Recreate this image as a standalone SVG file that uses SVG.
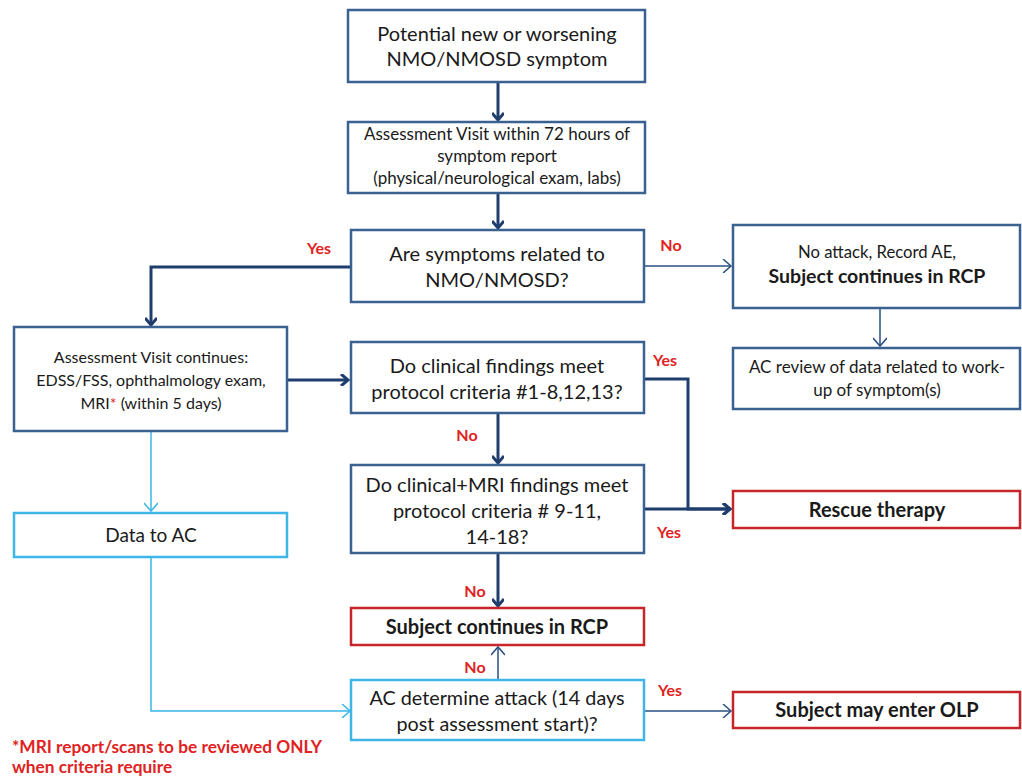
<svg xmlns="http://www.w3.org/2000/svg" width="1022" height="776" viewBox="0 0 1022 776">
<style>
text{font-family:Lato,"Open Sans","Liberation Sans",sans-serif;fill:#1a1a1a;text-anchor:middle}
.b{fill:#fff;stroke:#3a6190;stroke-width:2.5}
.r{fill:#fff;stroke:#c8252b;stroke-width:2.5}
.c{fill:#fff;stroke:#3db5e6;stroke-width:2.5}
.thick{fill:none;stroke:#1f3d6d;stroke-width:3;marker-end:url(#ah)}
.thin{fill:none;stroke:#2a4f80;stroke-width:1.5;marker-end:url(#aht)}
.lb{fill:none;stroke:#3db5e6;stroke-width:1.5;marker-end:url(#ahc)}
.lbl{fill:#e02222;font-weight:bold;font-size:16px}
.bold{font-weight:bold}
</style>
<defs>
<marker id="ah" markerWidth="12" markerHeight="12" refX="9" refY="6" orient="auto" markerUnits="userSpaceOnUse"><path d="M2,0 L9,6 L2,12" fill="none" stroke="#1f3d6d" stroke-width="3"/></marker>
<marker id="aht" markerWidth="12" markerHeight="14" refX="10" refY="7" orient="auto" markerUnits="userSpaceOnUse"><path d="M2,0 L10,7 L2,14" fill="none" stroke="#2a4f80" stroke-width="1.5"/></marker>
<marker id="ahc" markerWidth="12" markerHeight="14" refX="10" refY="7" orient="auto" markerUnits="userSpaceOnUse"><path d="M2,0 L10,7 L2,14" fill="none" stroke="#3db5e6" stroke-width="1.5"/></marker>
</defs>
<g id="connectors">
<path class="thick" d="M498,82 V120"/>
<path class="thick" d="M498,193 V228"/>
<path class="thin" d="M644,266 H731"/>
<path class="thick" d="M350,267 H151 V325"/>
<path class="thin" d="M880,308 V346"/>
<path class="thick" d="M287,380 H348"/>
<path class="thick" d="M644,379 H688 V509 H730"/>
<path class="thick" d="M498,413 V463"/>
<path class="thick" d="M644,509 H730"/>
<path class="thick" d="M498,553 V606"/>
<path class="thin" d="M498,680 V647"/>
<path class="thin" d="M644,711 H731"/>
<path class="lb" d="M151,431 V511"/>
<path class="lb" d="M151,557 V711 H350"/>
<text class="lbl" x="319" y="254">Yes</text>
<text class="lbl" x="671" y="251">No</text>
<text class="lbl" x="665" y="366">Yes</text>
<text class="lbl" x="467" y="441">No</text>
<text class="lbl" x="669" y="538">Yes</text>
<text class="lbl" x="475" y="597">No</text>
<text class="lbl" x="475" y="673">No</text>
<text class="lbl" x="670" y="696">Yes</text>
</g>
<g id="n1"><rect class="b" x="348" y="10" width="297" height="72"/>
<text x="497" y="41" font-size="20">Potential new or worsening</text>
<text x="497" y="66" font-size="20">NMO/NMOSD symptom</text></g>
<g id="n2"><rect class="b" x="348" y="122" width="297" height="71"/>
<text x="497" y="140" font-size="17">Assessment Visit within 72 hours of</text>
<text x="497" y="162" font-size="17">symptom report</text>
<text x="497" y="184" font-size="17">(physical/neurological exam, labs)</text></g>
<g id="n3"><rect class="b" x="351" y="230" width="293" height="72"/>
<text x="497" y="261" font-size="20">Are symptoms related to</text>
<text x="497" y="287" font-size="20">NMO/NMOSD?</text></g>
<g id="n4"><rect class="b" x="733" y="225" width="287" height="83"/>
<text x="877" y="258" font-size="16.7">No attack, Record AE,</text>
<text x="877" y="283" font-size="19.5" class="bold">Subject continues in RCP</text></g>
<g id="n5"><rect class="b" x="733" y="348" width="287" height="61"/>
<text x="877" y="373" font-size="17">AC review of data related to work-</text>
<text x="877" y="396" font-size="17">up of symptom(s)</text></g>
<g id="n6"><rect class="b" x="14" y="327" width="273" height="104"/>
<text x="151" y="363" font-size="16">Assessment Visit continues:</text>
<text x="151" y="386" font-size="16">EDSS/FSS, ophthalmology exam,</text>
<text x="151" y="409" font-size="16">MRI<tspan fill="#e02222">*</tspan> (within 5 days)</text></g>
<g id="n7"><rect class="b" x="351" y="342" width="293" height="71"/>
<text x="497" y="373" font-size="20">Do clinical findings meet</text>
<text x="497" y="399" font-size="20">protocol criteria #1-8,12,13?</text></g>
<g id="n8"><rect class="b" x="351" y="465" width="293" height="88"/>
<text x="497" y="492" font-size="20">Do clinical+MRI findings meet</text>
<text x="497" y="518" font-size="20">protocol criteria # 9-11,</text>
<text x="497" y="544" font-size="20">14-18?</text></g>
<g id="n9"><rect class="c" x="14" y="513" width="273" height="44"/>
<text x="151" y="542" font-size="19">Data to AC</text></g>
<g id="n10"><rect class="r" x="733" y="491" width="287" height="37"/>
<text x="877" y="517" font-size="20" class="bold">Rescue therapy</text></g>
<g id="n11"><rect class="r" x="351" y="608" width="293" height="37"/>
<text x="497" y="634" font-size="20" class="bold">Subject continues in RCP</text></g>
<g id="n12"><rect class="c" x="351" y="680" width="293" height="60"/>
<text x="497" y="705" font-size="19.8">AC determine attack (14 days</text>
<text x="497" y="731" font-size="19.8">post assessment start)?</text></g>
<g id="n13"><rect class="r" x="733" y="692" width="287" height="36"/>
<text x="877" y="717" font-size="20" class="bold">Subject may enter OLP</text></g>
<g id="note">
<text x="12" y="753" font-size="17.3" class="bold" style="text-anchor:start;fill:#e02222">*MRI report/scans to be reviewed ONLY</text>
<text x="12" y="773" font-size="17.3" class="bold" style="text-anchor:start;fill:#e02222">when criteria require</text>
</g>
</svg>
